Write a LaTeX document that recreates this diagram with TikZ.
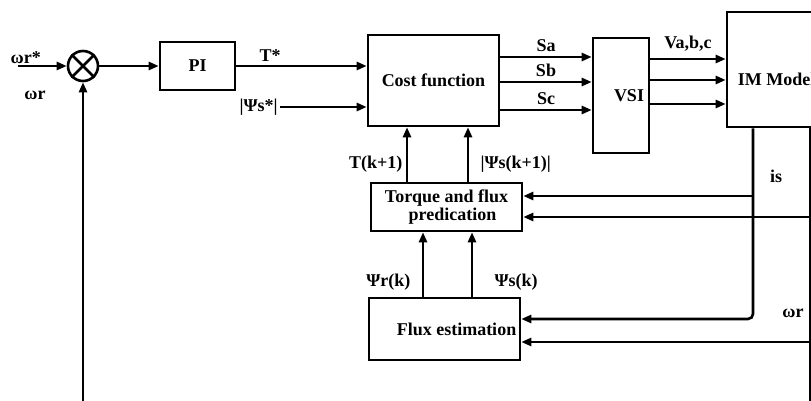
\documentclass[tikz,border=0pt]{standalone}
\usepackage{fontspec}
\setmainfont{Liberation Serif}
\usetikzlibrary{arrows.meta, calc}

\begin{document}
\begin{tikzpicture}[x=1pt, y=-1pt, >={Triangle[length=10pt,width=8pt]}, line width=2.6pt,
  font=\fontsize{18}{18}\selectfont\bfseries,
  block/.style={draw, rectangle, inner sep=2pt}]
  \useasboundingbox (0,0) rectangle (811,401);
  \clip (0,0) rectangle (811,401);
  % bloques
  \node[draw, circle, minimum size=30pt, inner sep=0pt] (sum) at (83,66) {};
  \draw (sum.north west) -- (sum.south east) (sum.north east) -- (sum.south west);
  \node[block, minimum width=75pt, minimum height=48pt] (pi) at (197.5,66) {PI};
  \node[block, minimum width=131pt, minimum height=91pt] (cost) at (433.5,80.5) {Cost function};
  \node[block, minimum width=56pt, minimum height=115pt, label={[xshift=8pt]center:VSI}] (vsi) at (621,95.5) {};
  \node[block, minimum width=95pt, minimum height=115pt, label={[xshift=2pt, yshift=-9.5pt]center:IM Model}] (im) at (774.5,69.5) {};
  \node[block, minimum width=151pt, minimum height=48pt, align=center] (tq) at (446.5,207) {Torque and flux\\\hspace*{12pt}predication};
  \node[block, minimum width=151pt, minimum height=62pt, label={[xshift=12pt]center:Flux estimation}] (flux) at (444.5,329) {};
  % entrada y lazo de velocidad
  \coordinate (wref) at (18,66);
  \coordinate (bot) at (0,401);
  \draw[->] (wref) -- node[pos=0.16, above, inner sep=1pt] {ωr*} (sum.west);
  \node (wrlab) at (35,95) {ωr};
  \draw[->] (bot -| sum) -- (sum.south);
  \draw[->] (sum.east) -- (pi.west);
  \draw[->] (pi.east) -- node[above, pos=0.26] {T*} (pi.east -| cost.west);
  \coordinate (psref) at (280,107);
  \draw[->] (psref) node[left, inner sep=1pt] {|Ψs*|} -- (psref -| cost.west);
  % pulsos e inversor
  \foreach \sw/\dy in {Sa/23.5, Sb/-1.5, Sc/-29.5}{
    \coordinate (\sw) at ([yshift=\dy pt]cost.east);
    \draw[->] (\sw) -- node[above, inner sep=4pt] {\sw} (\sw -| vsi.west);
  }
  \foreach \dy [count=\i] in {36.5, 15.5, -8.5}{
    \coordinate (v\i) at ([yshift=\dy pt]vsi.east);
    \draw[->] (v\i) -- (v\i -| im.west);
  }
  \path (v1) -- node[above, inner sep=6pt] (vlab) {Va,b,c} (v1 -| im.west);
  % prediccion
  \coordinate (tk) at ([xshift=-39.5pt]tq.north);
  \coordinate (pk) at ([xshift=21.5pt]tq.north);
  \draw[->] (tk) -- node[left, pos=0.32] {T(k+1)} (tk |- cost.south);
  \draw[->] (pk) -- node[right, pos=0.32, xshift=8pt] {|Ψs(k+1)|} (pk |- cost.south);
  \coordinate (rk) at ([xshift=-21.5pt]flux.north);
  \coordinate (sk) at ([xshift=27.5pt]flux.north);
  \draw[->] (rk) -- node[left, pos=0.22, xshift=-8pt] {Ψr(k)} (rk |- tq.south);
  \draw[->] (sk) -- node[right, pos=0.22, xshift=18pt] {Ψs(k)} (sk |- tq.south);
  % realimentacion de is y wr
  \coordinate (isb) at ([xshift=-21.5pt]im.south);
  \coordinate (wrb) at ([xshift=35.5pt]im.south);
  \coordinate (ti1) at ([yshift=11pt]tq.east);
  \coordinate (ti2) at ([yshift=-10pt]tq.east);
  \coordinate (fi1) at ([yshift=10pt]flux.east);
  \coordinate (fi2) at ([yshift=-13pt]flux.east);
  \draw[->, rounded corners=5pt] (isb) |- (fi1);
  \draw[->] (ti1 -| isb) -- (ti1);
  \draw (wrb) -- (wrb |- bot);
  \draw[->] (ti2 -| wrb) -- (ti2);
  \draw[->] (fi2 -| wrb) -- (fi2);
  \node (islab) at (776,176) {is};
  \node (wrlab2) at (793,313) {ωr};
\end{tikzpicture}
\end{document}
